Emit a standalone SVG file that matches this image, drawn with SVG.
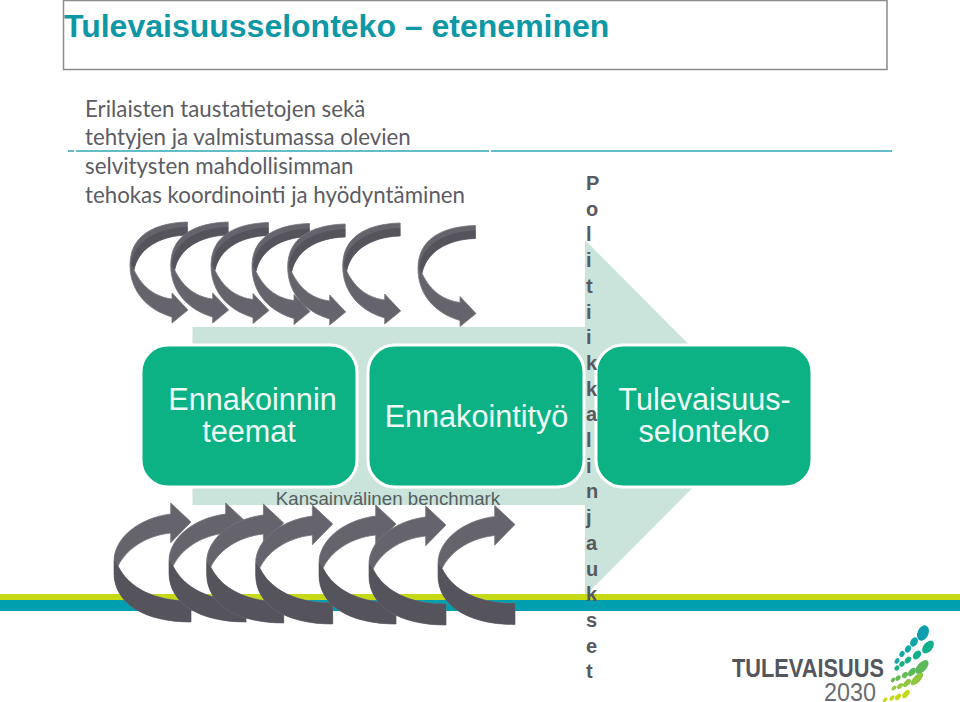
<svg xmlns="http://www.w3.org/2000/svg" width="960" height="702" viewBox="0 0 960 702">
<style>
.body{font-family:"Lato","Carlito","Open Sans",sans-serif;font-size:22.3px;fill:#5c5c64}
.node{fill:#0cb184;stroke:#fff;stroke-width:3}
.nt{font-family:"Liberation Sans",Arial,sans-serif;font-size:30.6px;fill:#eefaf6;text-anchor:middle}
.a1{fill:#65636b;stroke:#77757d;stroke-width:.8}
.a2{fill:#55535b}
</style>
<defs>
<g id="top">
<path class="a1" d="M57.500 0C22 1 0 15 0 43C0 70 18 88 42 95L42 101L58 88L42 71L42 77C27 75 13 67 4 48C8 28 27 14 57.500 13Z"/>
<path class="a2" d="M57.500 5C26 6 4 20 1 42L4 48C8 28 27 14 57.500 13Z"/>
</g>
<g id="bot">
<path class="a1" d="M56.700 0L77 19L56.700 39.700L56.700 30C30 33 12 47 4 63C15 85 40 98 77 98L77 119C30 119 0 100 0 70L0 58C0 35 25 15 56.700 11Z"/>
<path class="a2" d="M0 58L4 63C15 85 40 98 77 98L77 119C30 119 0 100 0 70Z"/>
</g>
</defs>
<rect width="960" height="702" fill="#fff"/>
<g id="title">
<rect x="63.500" y="0.500" width="823.500" height="69" fill="#fff" stroke="#8c8c8c" stroke-width="1.500"/>
<text x="64" y="37" font-family="Liberation Sans,Arial,sans-serif" font-weight="700" font-size="32" fill="#0e98a5">Tulevaisuusselonteko – eteneminen</text>
</g>
<path d="M68 151H74M76 151H489M491 151H892" stroke="#2fa8b8" stroke-width="1.500" fill="none"/>
<g id="intro">
<text class="body" x="85" y="117">Erilaisten taustatietojen sekä</text>
<text class="body" x="85" y="145">tehtyjen ja valmistumassa olevien</text>
<text class="body" x="85" y="174">selvitysten mahdollisimman</text>
<text class="body" x="85" y="203">tehokas koordinointi ja hyödyntäminen</text>
</g>
<path id="background-arrow" d="M192.500 327H585V240L762 418L585 596V505H192.500Z" fill="#cbe4db"/>
<rect x="0" y="594" width="960" height="6" fill="#c5d916"/>
<rect x="0" y="600" width="960" height="11" fill="#009fb0"/>
<g id="top-arrows">
<use href="#top" x="130" y="222"/>
<use href="#top" x="170.700" y="222"/>
<use href="#top" x="211" y="222.500"/>
<use href="#top" x="252" y="223.500"/>
<use href="#top" x="287.700" y="224"/>
<use href="#top" x="342.700" y="223"/>
<use href="#top" x="418" y="225.500"/>
</g>
<g id="node-ennakoinnin">
<rect class="node" x="141" y="345" width="216" height="142" rx="27"/>
<text class="nt" x="252.500" y="410">Ennakoinnin</text>
<text class="nt" x="249" y="441.500">teemat</text>
</g>
<g id="node-ennakointityo">
<rect class="node" x="368" y="345" width="216" height="142" rx="27"/>
<text class="nt" x="476.500" y="427">Ennakointityö</text>
</g>
<g id="node-tulevaisuusselonteko">
<rect class="node" x="596" y="345" width="216" height="142" rx="27"/>
<text class="nt" x="704.500" y="410">Tulevaisuus-</text>
<text class="nt" x="704" y="441.500">selonteko</text>
</g>
<text id="benchmark" x="388" y="505" text-anchor="middle" font-family="Liberation Sans,Arial,sans-serif" font-size="18.700" fill="#55605f">Kansainvälinen benchmark</text>
<g id="bottom-arrows">
<use href="#bot" x="114" y="503"/>
<use href="#bot" x="169" y="503"/>
<use href="#bot" x="206.700" y="504"/>
<use href="#bot" x="255.700" y="505"/>
<use href="#bot" x="319" y="505"/>
<use href="#bot" x="369" y="506"/>
<use href="#bot" x="438" y="505.500"/>
</g>
<text id="vertical" font-family="Liberation Sans,Arial,sans-serif" font-weight="700" font-size="20" fill="#595960" x="586 586 586 586 586 586 586 586 586 586 586 586 586 586 586 586 586 586 586 586" y="190 215.700 241.400 267.100 292.800 318.500 344.200 369.900 395.600 421.300 447 472.700 498.400 524.100 549.800 575.500 601.200 626.900 652.600 678.300">Politiikkalinjaukset</text>
<g id="logo">
<text x="732" y="677" font-family="Liberation Sans,Arial,sans-serif" font-weight="700" font-size="26.500" fill="#54565e" textLength="152" lengthAdjust="spacingAndGlyphs">TULEVAISUUS</text>
<text x="824" y="701" font-family="Liberation Sans,Arial,sans-serif" font-size="25.500" fill="#6a6c72" textLength="52" lengthAdjust="spacingAndGlyphs">2030</text>
<g id="leaves">
<ellipse cx="923" cy="633" rx="5.500" ry="8" transform="rotate(25 923 633)" fill="#0d9fae"/>
<ellipse cx="914" cy="642" rx="3.500" ry="5" transform="rotate(30 914 642)" fill="#0ca5a8"/>
<ellipse cx="908" cy="649" rx="2.800" ry="3.800" transform="rotate(30 908 649)" fill="#0ca5a8"/>
<ellipse cx="902" cy="654" rx="2.400" ry="3.200" transform="rotate(30 902 654)" fill="#12aaa5"/>
<ellipse cx="897" cy="661" rx="2.200" ry="3" transform="rotate(30 897 661)" fill="#12aaa5"/>
<ellipse cx="928" cy="647" rx="4.500" ry="7.500" transform="rotate(40 928 647)" fill="#10b08f"/>
<ellipse cx="917" cy="655" rx="3.500" ry="5" transform="rotate(40 917 655)" fill="#10b08f"/>
<ellipse cx="908" cy="660" rx="2.800" ry="3.800" transform="rotate(40 908 660)" fill="#16b18a"/>
<ellipse cx="902" cy="664" rx="2.400" ry="3" transform="rotate(40 902 664)" fill="#18b184"/>
<ellipse cx="897" cy="668" rx="2.200" ry="2.800" transform="rotate(40 897 668)" fill="#18b184"/>
<ellipse cx="922" cy="667" rx="4.500" ry="8.500" transform="rotate(42 922 667)" fill="#5cb95a"/>
<ellipse cx="912" cy="672" rx="3" ry="5" transform="rotate(42 912 672)" fill="#5cb95a"/>
<ellipse cx="905" cy="675" rx="2.500" ry="3.500" transform="rotate(42 905 675)" fill="#66bb55"/>
<ellipse cx="898" cy="678" rx="2.200" ry="3" transform="rotate(42 898 678)" fill="#66bb55"/>
<ellipse cx="893" cy="680" rx="1.800" ry="2.600" transform="rotate(42 893 680)" fill="#66bb55"/>
<ellipse cx="917" cy="679" rx="3.500" ry="8" transform="rotate(45 917 679)" fill="#8ec63f"/>
<ellipse cx="907" cy="683" rx="2.600" ry="5" transform="rotate(45 907 683)" fill="#8ec63f"/>
<ellipse cx="900" cy="686" rx="2.200" ry="3.500" transform="rotate(45 900 686)" fill="#96c93d"/>
<ellipse cx="894" cy="688" rx="1.800" ry="3" transform="rotate(45 894 688)" fill="#96c93d"/>
<ellipse cx="906" cy="694" rx="2.600" ry="5" transform="rotate(40 906 694)" fill="#c5d916"/>
<ellipse cx="898" cy="697" rx="2.200" ry="3.800" transform="rotate(40 898 697)" fill="#c5d916"/>
<ellipse cx="892" cy="698" rx="1.800" ry="3.200" transform="rotate(40 892 698)" fill="#c5d916"/>
<ellipse cx="885" cy="700" rx="1.600" ry="2.800" transform="rotate(40 885 700)" fill="#c5d916"/>
</g>
</g>
</svg>
